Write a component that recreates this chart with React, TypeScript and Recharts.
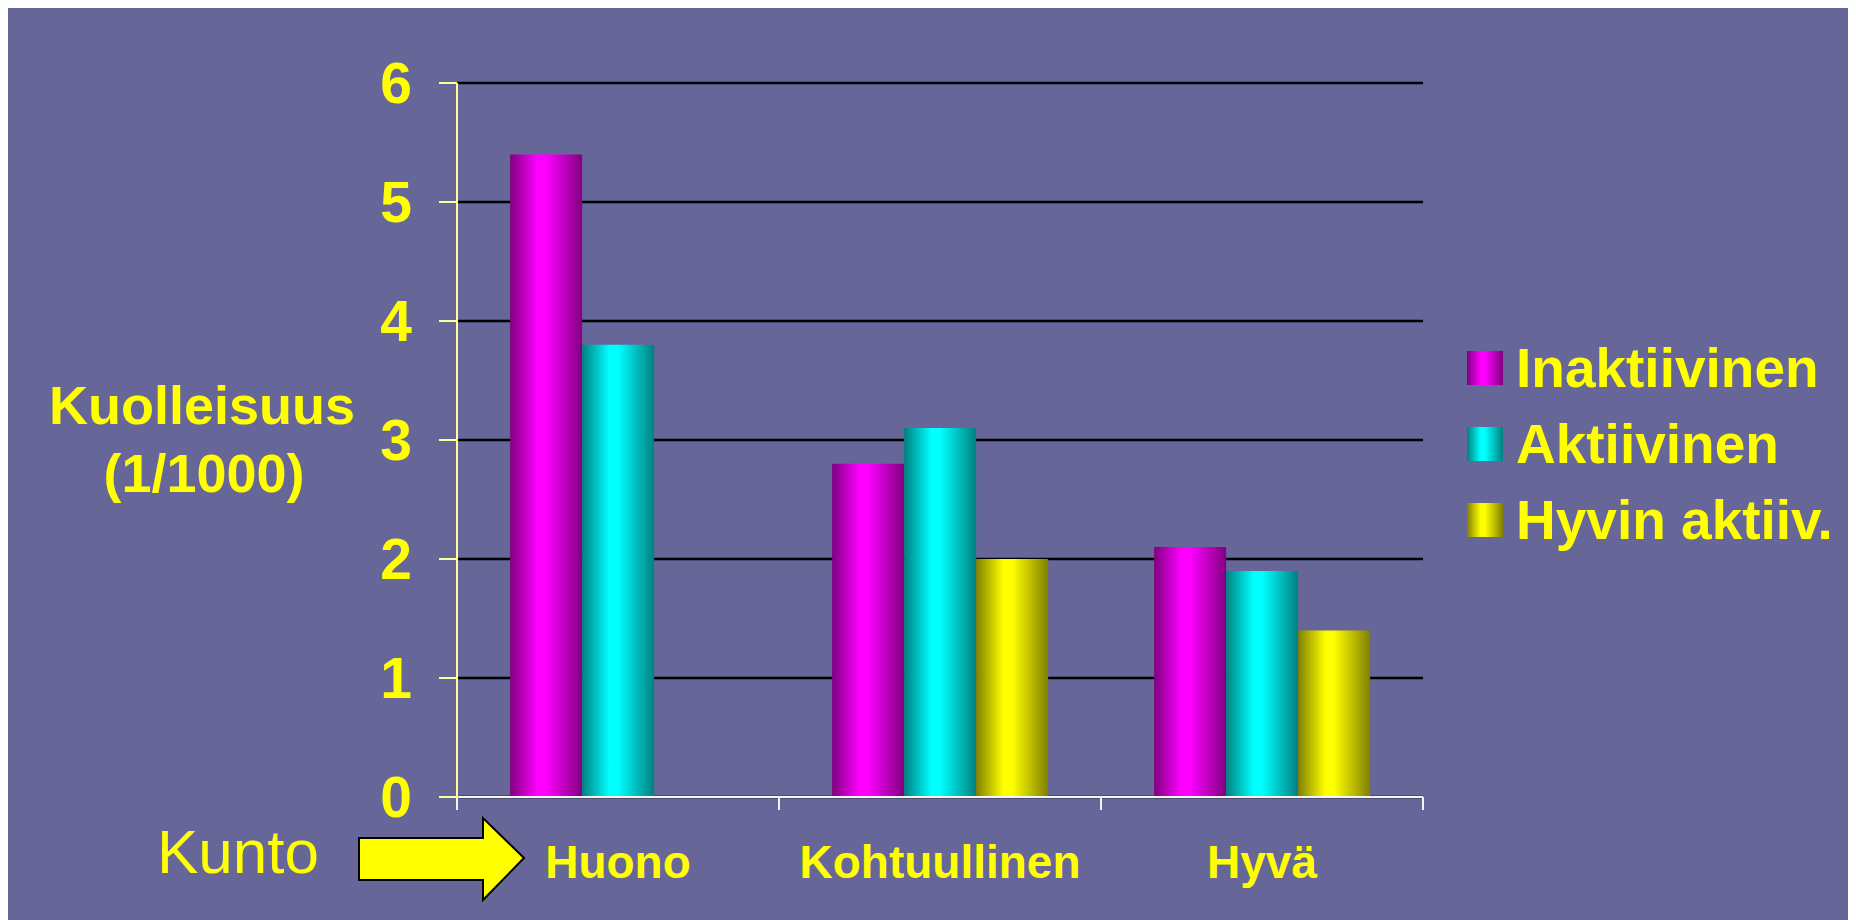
import React from 'react';
import { BarChart, Bar, XAxis, YAxis, CartesianGrid, Legend } from 'recharts';

// values (deaths per 1000)
const categories = ['Huono', 'Kohtuullinen', 'Hyvä'];
const inaktiivinen = [5.4, 2.8, 2.1];
const aktiivinen = [3.8, 3.1, 1.9];
const hyvinAktiiv: (number | null)[] = [null, 2.0, 1.4];
const yTicks = [0, 1, 2, 3, 4, 5, 6];

const series = [
  { key: 'inaktiivinen', name: 'Inaktiivinen', dark: '#800080', light: '#ff00ff' },
  { key: 'aktiivinen', name: 'Aktiivinen', dark: '#008080', light: '#00ffff' },
  { key: 'hyvin', name: 'Hyvin aktiiv.', dark: '#808000', light: '#ffff00' },
];

const data = categories.map((name, i) => ({
  name,
  inaktiivinen: inaktiivinen[i],
  aktiivinen: aktiivinen[i],
  hyvin: hyvinAktiiv[i],
}));

const W = 1848;
const H = 912;
const PLOT_LEFT = 449;
const PLOT_RIGHT = 1415;
const BAND = (PLOT_RIGHT - PLOT_LEFT) / categories.length;
const FONT = '"Liberation Sans", Arial, sans-serif';
const YELLOW = '#ffff00';
const BG = '#666699';
const AXIS_Y = '#ffff99';
const AXIS_X = '#f4f4f4';

const XTick = (props: any) => {
  const { x, y, payload, index } = props;
  const top = y - 13;
  return (
    <g>
      <line x1={x - BAND / 2} x2={x - BAND / 2} y1={top} y2={y} stroke={AXIS_X} strokeWidth={2} />
      {index === categories.length - 1 && (
        <line x1={x + BAND / 2} x2={x + BAND / 2} y1={top} y2={y} stroke={AXIS_X} strokeWidth={2} />
      )}
      <text x={x} y={y + 68} textAnchor="middle" fill={YELLOW} fontSize={46} fontWeight="bold" fontFamily={FONT}>
        {payload.value}
      </text>
    </g>
  );
};

const renderLegend = () => (
  <div style={{ fontFamily: FONT }}>
    {series.map((s) => (
      <div key={s.key} style={{ display: 'flex', alignItems: 'center', height: 34, marginBottom: 42 }}>
        <div
          style={{
            width: 36,
            height: 34,
            background: `linear-gradient(to right, ${s.dark} 0%, ${s.light} 38%, ${s.light} 50%, ${s.dark} 100%)`,
          }}
        />
        <span style={{ marginLeft: 13, color: YELLOW, fontSize: 55, fontWeight: 'bold', lineHeight: '34px', whiteSpace: 'nowrap' }}>
          {s.name}
        </span>
      </div>
    ))}
  </div>
);

export default function App() {
  return (
    <div style={{ position: 'relative', width: W, height: H, background: BG, overflow: 'hidden' }}>
      <BarChart
        width={W}
        height={H}
        data={data}
        margin={{ top: 75, right: W - PLOT_RIGHT, bottom: 23, left: 0 }}
        barCategoryGap="16.5%"
        barGap={0}
      >
        <defs>
          {series.map((s) => (
            <linearGradient key={s.key} id={`grad-${s.key}`} x1="0" y1="0" x2="1" y2="0">
              <stop offset="0%" stopColor={s.dark} />
              <stop offset="38%" stopColor={s.light} />
              <stop offset="50%" stopColor={s.light} />
              <stop offset="100%" stopColor={s.dark} />
            </linearGradient>
          ))}
        </defs>
        <CartesianGrid vertical={false} stroke="#000000" strokeWidth={2.5} />
        <YAxis
          width={PLOT_LEFT}
          domain={[0, 6]}
          ticks={yTicks}
          interval={0}
          axisLine={{ stroke: AXIS_Y, strokeWidth: 2 }}
          tickLine={{ stroke: AXIS_Y, strokeWidth: 2 }}
          tickSize={18}
          tickMargin={27}
          tick={{ fill: YELLOW, fontSize: 57, fontWeight: 'bold', fontFamily: FONT }}
        />
        <XAxis
          dataKey="name"
          height={100}
          axisLine={{ stroke: AXIS_X, strokeWidth: 2 }}
          tickLine={false}
          tickSize={13}
          tickMargin={0}
          interval={0}
          tick={<XTick />}
        />
        <Legend
          layout="horizontal"
          verticalAlign="middle"
          align="center"
          content={renderLegend}
          wrapperStyle={{ left: 1459, top: 343, width: 385, height: 240 }}
        />
        {series.map((s) => (
          <Bar key={s.key} dataKey={s.key} name={s.name} fill={`url(#grad-${s.key})`} isAnimationActive={false} />
        ))}
      </BarChart>
      <svg width={W} height={H} style={{ position: 'absolute', left: 0, top: 0, pointerEvents: 'none' }}>
        <text x={194} y={416} textAnchor="middle" fill={YELLOW} fontSize={54} fontWeight="bold" fontFamily={FONT}>
          Kuolleisuus
        </text>
        <text x={196} y={484} textAnchor="middle" fill={YELLOW} fontSize={54} fontWeight="bold" fontFamily={FONT}>
          (1/1000)
        </text>
        <text x={149} y={865} fill={YELLOW} fontSize={62} fontFamily={FONT}>
          Kunto
        </text>
        <polygon
          points="351,830 475,830 475,810 516,850 475,892 475,872 351,872"
          fill={YELLOW}
          stroke="#000000"
          strokeWidth={2}
        />
      </svg>
    </div>
  );
}
